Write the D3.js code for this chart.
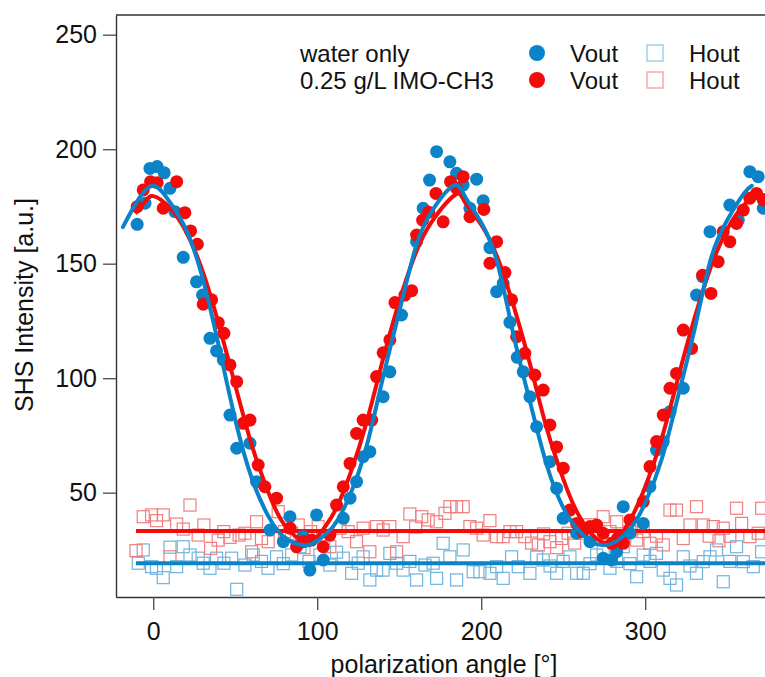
<!DOCTYPE html>
<html>
<head>
<meta charset="utf-8">
<script src="https://cdn.jsdelivr.net/npm/d3@7"></script>
<style>
  body { margin: 0; background: #fff; }
  svg { display: block; background: #fff; font-family: "Liberation Sans", Arial, sans-serif; }
</style>
</head>
<body>
<svg id="svg"></svg>
<script>
// measured points: [polarization angle, SHS intensity]
var waterVout = [[-9.8,167.2],[-5,176.4],[-2,191.6],[2.4,192.4],[6.7,189.7],[10.2,182.9],[13.2,172.7],[18.3,152.8],[26.4,142.1],[30.1,136.3],[34.6,117.4],[38.6,111.9],[42.7,108],[46.8,83.9],[50.9,69.4],[59,71.6],[63,54.8],[71.2,33.7],[79.3,28.6],[83.4,39.5],[91.5,30.8],[95.5,16.2],[99.6,40.3],[103.7,20.6],[115.9,38.8],[120,47.6],[124,54.8],[128,65.7],[132.1,67.9],[140.2,91.9],[144.3,102.8],[151.4,127.6],[160.6,159.6],[164.6,174.2],[168.5,186.5],[172.8,198.9],[180.9,194.5],[185,189.5],[189,184.4],[193.1,174.2],[197.2,186.9],[201.2,177.5],[205.3,157],[209.4,137.8],[213.4,141.4],[217.5,124.4],[222,109.1],[225.6,102.8],[229.7,91.9],[233.8,78.8],[241.9,63.5],[246,51.9],[250,38.8],[258.2,32.3],[266.3,28.6],[274.4,21.4],[279.5,20.6],[282.6,24.2],[286.6,43.9],[290.7,32.3],[298.8,36.6],[302.9,52.6],[306.9,68.6],[311,72.3],[315.1,85.4],[323.2,95.6],[331.3,136.3],[335,144.3],[339.5,164],[351.6,175.6],[356.7,169],[363.8,190.2],[368.9,188],[372,174.2]];

var imoVout = [[-9.8,174.9],[-6.1,182.2],[-1.6,185.8],[2.4,185.4],[6.1,174.2],[14.3,185.8],[19.3,172.3],[22.8,164.3],[26.9,158.5],[30.5,132.3],[35.6,134.2],[39.7,124.2],[43.1,119.6],[46.8,105.8],[50.9,98.5],[54.9,80.3],[59,81.7],[64,62.1],[68.1,52.6],[75.2,47.6],[83.4,34.5],[87.4,26.4],[91.5,28.6],[96.6,29.3],[103.7,26.4],[107.7,31.5],[111.8,44.6],[115.9,52.6],[120,62.8],[124,75.9],[128,81.7],[133.2,81.7],[136.2,100.7],[140.2,111.1],[144.3,116.7],[147.4,133],[153.5,136.3],[157.6,138.2],[160.6,162.5],[164.3,169],[168,172.5],[172.4,180.7],[176.8,168.3],[181.3,185.8],[185,182.9],[189,188],[193.1,170.5],[201.6,173.7],[205.3,150.2],[209.4,159.6],[214.5,146.1],[218.5,134.2],[221.6,118.1],[226.6,110.9],[232.7,101.4],[237.8,94.8],[241.9,79.6],[246,70],[250,60.7],[254.1,42.4],[258.2,36.6],[262,33],[266.3,35.2],[270.4,35.9],[274.4,32.3],[279.5,27.9],[283,30],[286.6,27.9],[290.7,38.1],[298.8,46.1],[302.9,61.4],[306.9,72.3],[311,83.9],[315.1,95.6],[319.1,102.1],[323.2,121],[328.3,113],[335,145],[340.1,137],[344.5,150.9],[347.6,164],[351.6,159.6],[355.7,167.6],[359.8,173.4],[363.8,178.6],[367.9,180.7],[372,177.8]];

var waterHout = [[-9.1,19.2],[-6.1,25],[-1,17.7],[2,17],[6.1,12.9],[10.2,26.2],[14.3,17.7],[18.3,26.4],[22.4,22.8],[27.4,21.4],[30.5,19.2],[34.6,17],[38.6,21.4],[43.1,19.2],[47.8,21.4],[50.9,7.8],[55.9,18.4],[61,22.8],[66,20],[70,17],[75.2,22],[79.3,19],[84.4,22.8],[89.5,26.4],[95,20],[101.6,22.8],[107.7,18.4],[111.8,24],[115.9,21.4],[121,14.8],[125,19.2],[128,22],[132.1,11.9],[136.2,16.2],[140.2,16.2],[144.3,23.5],[148.4,19.2],[152.4,16.2],[156.5,20],[160.6,11.9],[165.7,18.4],[170.7,19.2],[172.8,12.6],[176.8,27.9],[180.9,22],[185,11.9],[189,25],[195.1,15.5],[199.2,15.5],[205.3,14.8],[209.4,17.7],[213.4,12.6],[218.5,22],[222.6,17.7],[229.7,14.8],[233.8,22],[237.8,20.6],[242,18],[246,14.8],[250,20],[254.1,22],[258.2,14.8],[262.2,14.8],[266.3,19],[270.4,22.8],[274.4,25],[278.5,17],[282.6,20],[286.6,26.4],[290.7,19],[294.8,13.3],[298.8,22.8],[302.9,20],[306.9,23.5],[311,16.2],[315.1,12.6],[319.1,9.7],[323.2,22],[327.3,18],[331.3,14.8],[335.4,19.9],[339.5,22],[343.5,25],[347.6,11.1],[351.6,20],[355.7,26.4],[359.8,19.9],[365.9,17.7],[371,24.2]];

var imoHout = [[-10.5,24.7],[-6.1,39.5],[-1,40.3],[2,37.8],[6.1,40.3],[10.2,22],[14.3,36.3],[18.3,34.1],[22.4,44.6],[27.4,31.5],[30.9,35.9],[35,25.7],[39.6,29.3],[43,33],[46.8,30.5],[52.4,31.5],[55.9,32.3],[60,24.2],[63,37.3],[66,30],[70.1,28.6],[76.2,41.7],[80,33],[84.4,32.3],[88.4,35.9],[92,26],[96,33],[100.6,35.2],[104,30],[107.7,26.4],[113.8,34.5],[118.9,33],[124,28.6],[128,34.5],[132.1,24.2],[136.2,35.2],[140.2,33.7],[144.3,35.2],[148.4,24.2],[152.4,30.8],[156.5,40.7],[160,35],[163.7,39.5],[167.7,38.1],[172.8,37.3],[177.9,41],[180.9,43.9],[185,43.9],[189,43.9],[193.1,35.2],[197.2,34.5],[201.2,31.5],[205.3,37.8],[209.4,30.8],[213.4,30.8],[217.5,33],[221.6,33],[226.6,30.8],[230.7,28],[234.8,27.2],[238,32],[241.9,28.6],[246,26],[249,30],[253,32.3],[257,28],[261.2,32.3],[266,36],[270,30],[274.4,39.5],[278.5,33],[282.6,37.3],[286.6,31],[290.7,33],[294.8,29.3],[298.8,33],[302.9,27.9],[306.9,31],[311,27.2],[315.1,42.4],[319.1,42.4],[323.2,30],[327.3,35.9],[331.3,43.9],[335.4,35.9],[339,31],[341.5,35.2],[345,29],[347.6,34.5],[351.6,31],[355.7,43.2],[358.8,36.6],[363.8,30.8],[368.9,32.3],[371,43.2]];

// fit curves
var waterFit = [[-18.5,166],[-10,177],[0,184],[10,177],[20,165],[30,144],[40,114],[50,82],[60,56.5],[70,40],[80,30.5],[92,27],[100,29],[110,35.5],[120,49],[130,70],[140,100],[150,129],[160,157],[170,173],[183,184],[190,179.5],[200,168],[210,150],[220,118],[230,89],[240,62],[250,43.5],[260,33],[274.5,27],[290,33.5],[300,45.5],[310,64.5],[320,92],[330,121],[340,152],[350,169],[360,180.5],[365,184]];
var imoFit = [[-11,172],[-5,177],[0,179.5],[10,174.5],[20,164],[30,147],[40,123.5],[50,97],[60,71],[70,50.5],[80,36],[93,28],[100,30.5],[110,41],[120,58],[130,80.5],[140,108],[150,133.5],[160,154.5],[170,168.5],[184,180],[190,177],[200,167],[210,152.5],[220,131],[230,105.5],[240,78],[250,56],[260,39.5],[276,28],[290,37],[300,52.5],[310,73.5],[320,100],[330,126],[340,148.5],[350,165],[360,175.5],[370,180],[380,178]];
var waterHFit = [[-10.5,19.2],[380,19.2]];
var imoHFit = [[-10.5,33.3],[380,33.3]];

var xTicks = [0, 100, 200, 300];
var yTicks = [50, 100, 150, 200, 250];
var sampleLabels = ['water only', '0.25 g/L IMO-CH3'];
var polLabels = ['Vout', 'Hout'];

var blue = '#0a83c8', red = '#f50a0a';
var lightBlue = '#6fb4dd', lightRed = '#ef7f7f';

var width = 765, height = 677;
var margin = {top: 15, left: 116, bottom: 80};

var svg = d3.select('#svg')
    .attr('width', width)
    .attr('height', height);

var x = d3.scaleLinear()
    .domain([-22.7, 380])
    .range([margin.left, 776.4]);
var y = d3.scaleLinear()
    .domain([4.45, 258.6])
    .range([height - margin.bottom, margin.top]);

svg.append('clipPath').attr('id', 'plot-clip')
  .append('rect')
    .attr('x', margin.left).attr('y', margin.top)
    .attr('width', 776.4 - margin.left)
    .attr('height', height - margin.bottom - margin.top);

var plot = svg.append('g').attr('clip-path', 'url(#plot-clip)');

// open squares first, they sit under everything
function squares(data, color) {
  plot.append('g').selectAll('rect')
      .data(data)
    .enter().append('rect')
      .attr('x', function(d) { return x(d[0]) - 6; })
      .attr('y', function(d) { return y(d[1]) - 6; })
      .attr('width', 12)
      .attr('height', 12)
      .attr('fill', 'none')
      .attr('stroke', color)
      .attr('stroke-width', 1.2);
}
squares(waterHout, lightBlue);
squares(imoHout, lightRed);

var line = d3.line()
    .curve(d3.curveNatural)
    .x(function(d) { return x(d[0]); })
    .y(function(d) { return y(d[1]); });

plot.append('path').datum(waterHFit)
    .attr('fill', 'none').attr('stroke', blue).attr('stroke-width', 4).attr('d', line);
plot.append('path').datum(imoHFit)
    .attr('fill', 'none').attr('stroke', red).attr('stroke-width', 4).attr('d', line);

function dots(data, color) {
  plot.append('g').selectAll('circle')
      .data(data)
    .enter().append('circle')
      .attr('cx', function(d) { return x(d[0]); })
      .attr('cy', function(d) { return y(d[1]); })
      .attr('r', 6.5)
      .attr('fill', color);
}
dots(waterVout, blue);
dots(imoVout, red);

plot.append('path').datum(imoFit)
    .attr('fill', 'none').attr('stroke', red).attr('stroke-width', 4)
    .attr('stroke-linejoin', 'round').attr('d', line);
plot.append('path').datum(waterFit)
    .attr('fill', 'none').attr('stroke', blue).attr('stroke-width', 4)
    .attr('stroke-linejoin', 'round').attr('stroke-linecap', 'round').attr('d', line);

// axes
var yAxis = svg.append('g')
    .attr('transform', 'translate(' + margin.left + ',0)')
    .call(d3.axisLeft(y).tickValues(yTicks).tickSize(13).tickSizeOuter(0).tickPadding(6));
var xAxis = svg.append('g')
    .attr('transform', 'translate(0,' + (height - margin.bottom) + ')')
    .call(d3.axisBottom(x).tickValues(xTicks).tickSize(13).tickSizeOuter(0).tickPadding(12));

[xAxis, yAxis].forEach(function(g) {
  g.attr('font-family', null).attr('font-size', null);
  g.select('.domain').attr('stroke', '#333').attr('stroke-width', 1.4);
  g.selectAll('.tick line').attr('stroke', '#555').attr('stroke-width', 1.4);
  g.selectAll('.tick text').attr('fill', '#111').style('font-size', '25px');
});

// top frame line
svg.append('line')
    .attr('x1', margin.left).attr('x2', width)
    .attr('y1', margin.top).attr('y2', margin.top)
    .attr('stroke', '#333').attr('stroke-width', 1.4);

svg.append('text')
    .attr('x', 444).attr('y', 673)
    .attr('text-anchor', 'middle')
    .style('font-size', '25px')
    .attr('fill', '#111')
    .text('polarization angle [°]');

svg.append('text')
    .attr('transform', 'translate(33,305) rotate(-90)')
    .attr('text-anchor', 'middle')
    .style('font-size', '25px')
    .attr('fill', '#111')
    .text('SHS Intensity [a.u.]');

// legend
var rows = [53, 80];
var dotColors = [blue, red], boxColors = ['#93c8e6', '#f2a0a0'];
rows.forEach(function(ry, i) {
  svg.append('text').attr('x', 300).attr('y', ry + 9)
      .style('font-size', '24px').attr('fill', '#111').text(sampleLabels[i]);
  svg.append('circle').attr('cx', 537).attr('cy', ry).attr('r', 8).attr('fill', dotColors[i]);
  svg.append('text').attr('x', 570).attr('y', ry + 9)
      .style('font-size', '24px').attr('fill', '#111').text(polLabels[0]);
  svg.append('rect').attr('x', 647).attr('y', ry - 8).attr('width', 16).attr('height', 16)
      .attr('fill', 'none').attr('stroke', boxColors[i]).attr('stroke-width', 1.3);
  svg.append('text').attr('x', 689).attr('y', ry + 9)
      .style('font-size', '24px').attr('fill', '#111').text(polLabels[1]);
});
</script>
</body>
</html>
